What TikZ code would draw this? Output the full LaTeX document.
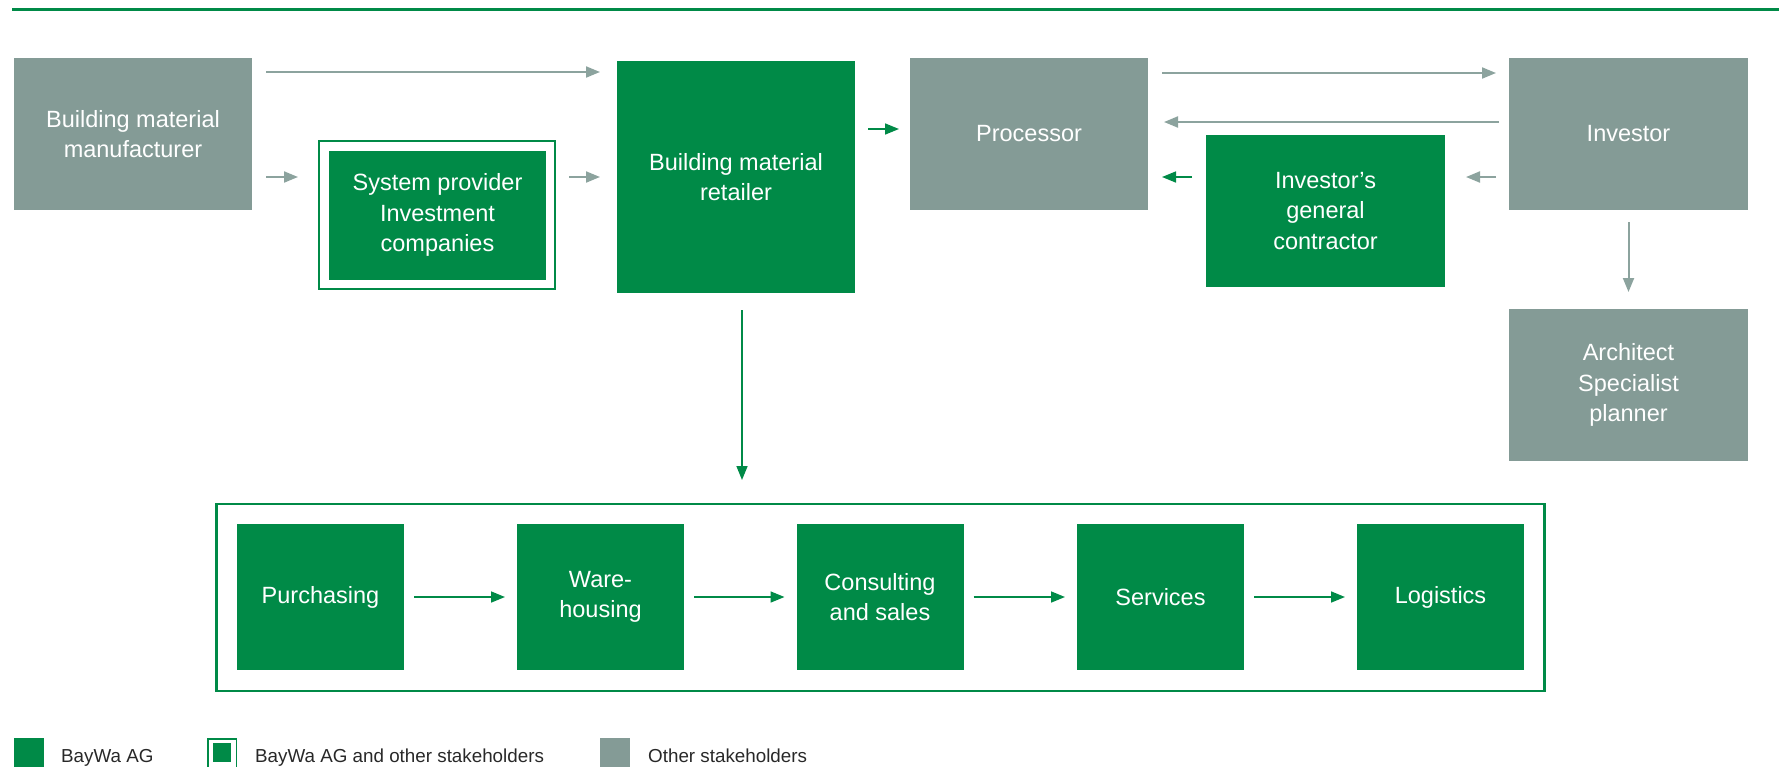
\documentclass[tikz,border=0pt]{standalone}
\usepackage{fontspec}
\setmainfont{Liberation Sans}
\usetikzlibrary{arrows.meta}
\definecolor{bgreen}{RGB}{0,138,71}
\definecolor{bgray}{RGB}{132,155,150}
\definecolor{agray}{RGB}{140,163,158}
\definecolor{ltext}{RGB}{40,40,40}
\begin{document}
\begin{tikzpicture}[x=1pt,y=-1pt,
  box/.style={inner sep=0pt, outer sep=0pt, align=center, text=white,
    font=\fontsize{23.5}{30.5}\selectfont},
  gbox/.style={box, fill=bgray},
  grbox/.style={box, fill=bgreen},
  tip/.style={-{Triangle[length=14pt,width=11pt]}},
  garrow/.style={draw=agray, line width=2pt, tip},
  grarrow/.style={draw=bgreen, line width=1.6pt, tip},
  legtext/.style={anchor=base west, inner sep=0pt, text=ltext,
    font=\fontsize{18.8}{22}\selectfont},
  legsq/.style={inner sep=0pt, outer sep=0pt, minimum width=30pt, minimum height=30pt, anchor=north west}
]
\useasboundingbox (0,0) rectangle (1779,766);

% top rule
\coordinate (rl) at (12,9);
\coordinate (rr) at (1779,9);
\draw[bgreen, line width=3pt] (rl) -- (rr);

% upper boxes
\node[gbox, minimum width=238pt, minimum height=152pt] (man) at (133,134) {Building material\\manufacturer};
\node[grbox, minimum width=238pt, minimum height=232pt] (ret) at (736,177) {Building material\\retailer};
\node[gbox, minimum width=238pt, minimum height=152pt] (proc) at (1029,134) {Processor};
\node[gbox, minimum width=239pt, minimum height=152pt] (inv) at (1628.5,134) {Investor};
\node[grbox, minimum width=239pt, minimum height=152pt] (gc) at (1325.5,211) {Investor’s\\general\\contractor};
\node[gbox, minimum width=239pt, minimum height=152pt] (arch) at (1628.5,385) {Architect\\Specialist\\planner};
\node[inner sep=0pt, outer sep=0pt, draw=bgreen, line width=2pt, minimum width=236pt, minimum height=148pt] (sysout) at (437,215) {};
\node[grbox, minimum width=217pt, minimum height=129pt] (sys) at (437.5,215) {System provider\\Investment\\companies};

% upper connectors
\draw[garrow, shorten <=14pt, shorten >=17pt] (man.east |- 0,72) -- (ret.west |- 0,72);
\draw[garrow, shorten <=14pt, shorten >=21pt] (man.east |- 0,177) -- (sysout.west |- 0,177);
\draw[garrow, shorten <=14pt, shorten >=17pt] (sysout.east |- 0,177) -- (ret.west |- 0,177);
\draw[grarrow, shorten <=13pt, shorten >=11pt] (ret.east |- 0,129) -- (proc.west |- 0,129);
\draw[garrow, shorten <=14pt, shorten >=13pt] (proc.east |- 0,73) -- (inv.west |- 0,73);
\draw[garrow, shorten <=10pt, shorten >=16pt] (inv.west |- 0,122) -- (proc.east |- 0,122);
\draw[garrow, shorten <=13pt, shorten >=21pt] (inv.west |- 0,177) -- (gc.east |- 0,177);
\draw[grarrow, shorten <=14pt, shorten >=14pt] (gc.west |- 0,177) -- (proc.east |- 0,177);
\draw[garrow, shorten <=12pt, shorten >=17pt] (inv.south) -- (arch.north);

% bottom frame
\node[inner sep=0pt, outer sep=0pt, draw=bgreen, line width=2.5pt, minimum width=1328pt, minimum height=187pt] (frame) at (880.5,597.5) {};
\draw[grarrow, shorten <=17pt, shorten >=24pt] (ret.south -| 742,0) -- (frame.north -| 742,0);

\node[grbox, minimum width=167pt, minimum height=146pt] (pur) at (320.5,597) {Purchasing};
\node[grbox, minimum width=167pt, minimum height=146pt] (war) at (600.5,597) {Ware-\\housing};
\node[grbox, minimum width=167pt, minimum height=146pt] (con) at (880,597) {Consulting\\and sales};
\node[grbox, minimum width=167pt, minimum height=146pt] (ser) at (1160.5,597) {Services};
\node[grbox, minimum width=167pt, minimum height=146pt] (log) at (1440.5,597) {Logistics};

\draw[grarrow, shorten <=10pt, shorten >=12pt] (pur) -- (war);
\draw[grarrow, shorten <=10pt, shorten >=12pt] (war) -- (con);
\draw[grarrow, shorten <=10pt, shorten >=12pt] (con) -- (ser);
\draw[grarrow, shorten <=10pt, shorten >=12pt] (ser) -- (log);

% legend
\node[legsq, fill=bgreen] (lg1) at (14,738) {};
\node[legtext] (lt1) at (61,762) {BayWa AG};
\node[legsq, draw=bgreen, line width=1.5pt, minimum width=28.5pt, minimum height=30pt] (lg2) at (207.75,738.75) {};
\node[inner sep=0pt, outer sep=0pt, fill=bgreen, minimum width=18pt, minimum height=19pt, anchor=north west] (lg2i) at (213,743) {};
\node[legtext] (lt2) at (255,762) {BayWa AG and other stakeholders};
\node[legsq, fill=bgray] (lg3) at (600,738) {};
\node[legtext] (lt3) at (648,762) {Other stakeholders};
\end{tikzpicture}
\end{document}
